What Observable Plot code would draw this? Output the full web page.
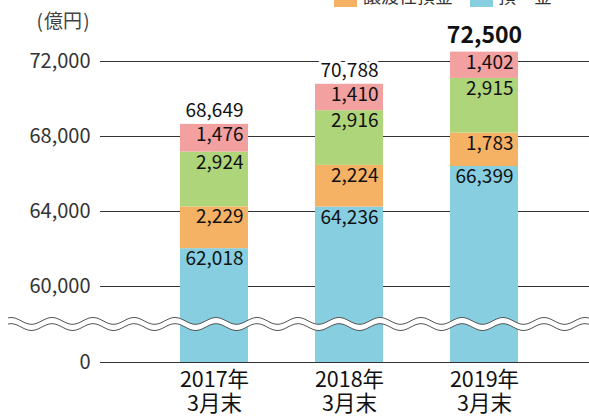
<!DOCTYPE html>
<html>
<head>
<meta charset="utf-8">
<script src="https://cdn.jsdelivr.net/npm/d3@7"></script>
<script src="https://cdn.jsdelivr.net/npm/@observablehq/plot@0.6"></script>
<style>
  html, body { margin: 0; padding: 0; background: #fff; overflow: hidden; }
  #wrap { position: relative; width: 589px; height: 416px; font-family: "Noto Sans CJK JP", sans-serif; }
  #wrap svg { position: absolute; left: 0; top: 0; }
  .lg { position: absolute; font-size: 18px; line-height: 18px; color: #333; white-space: pre; }
  .sw { position: absolute; width: 23px; height: 17px; }
</style>
</head>
<body>
<div id="wrap"></div>
<script>
// ---- data ----
const categories = ["2017年\n3月末", "2018年\n3月末", "2019年\n3月末"];
const seriesNames = ["預　金", "譲渡性預金", "その他A", "その他B"];
const deposits = [62018, 64236, 66399];      // 預金 (blue)
const cds = [2229, 2224, 1783];              // 譲渡性預金 (orange)
const greenSeries = [2924, 2916, 2915];      // green
const pinkSeries = [1476, 1410, 1402];       // pink
const totals = [68649, 70788, 72500];
const yTicks = [0, 60000, 64000, 68000, 72000];
const gridTicks = [60000, 64000, 68000, 72000];
const unitLabel = "(\u200A億円\u200A)";
const colors = ["#87cfe0", "#f6b264", "#afd57a", "#f2a0a0"];

const seriesValues = [deposits, cds, greenSeries, pinkSeries];
const rows = [];
seriesValues.forEach((vals, si) => {
  vals.forEach((v, ci) => rows.push({cat: categories[ci], series: seriesNames[si], value: v}));
});
const totalRows = totals.map((t, i) => ({cat: categories[i], total: t, last: i === totals.length - 1}));

const fmt = d3.format(",");

// broken axis: 0–60,000 is compressed into a short stretch below the break
const breakAt = 60000, lowSpan = 4053;
const brk = v => v <= breakAt ? v / breakAt * lowSpan : lowSpan + (v - breakAt);

const chart = Plot.plot({
  width: 589,
  height: 416,
  marginLeft: 100,
  marginRight: 0,
  marginTop: 0,
  marginBottom: 54,
  style: {fontFamily: "Noto Sans CJK JP, sans-serif", background: "transparent", overflow: "visible"},
  x: {domain: categories, paddingInner: 0.493, paddingOuter: 0.5444, align: 0.534, axis: null},
  y: {transform: brk, domain: [0, brk(74000)], range: [362, 362 - (lowSpan + 14000) * 0.01875], axis: null},
  color: {domain: seriesNames, range: colors},
  marks: [
    Plot.ruleY(gridTicks, {stroke: "#333", strokeWidth: 1}),
    Plot.ruleY([0], {stroke: "#333", strokeWidth: 1}),
    Plot.barY(rows, Plot.stackY({x: "cat", y: "value", z: "series", fill: "series", order: seriesNames})),
    Plot.text(rows, Plot.stackY2({
      x: "cat", y: "value", z: "series", order: seriesNames,
      text: d => fmt(d.value),
      textAnchor: "end", lineAnchor: "top", dx: 29, dy: 3,
      fontSize: 19, fill: "#111"
    })),
    // y tick labels
    Plot.text(yTicks, {y: d => d, text: d => fmt(d), frameAnchor: "left", textAnchor: "end", dx: -10, fontSize: 20, fill: "#333"}),
    // x category labels
    Plot.text(categories, {x: d => d, frameAnchor: "bottom", lineAnchor: "top", dy: 8, fontSize: 21.5, lineHeight: 1.1, fill: "#111"}),
    // unit label
    Plot.text([unitLabel], {frameAnchor: "top-left", dx: -64, dy: 14, fontSize: 19, fill: "#444"}),
    // totals
    Plot.text(totalRows.filter(d => !d.last), {x: "cat", y: "total", text: d => fmt(d.total), lineAnchor: "bottom", dy: -7, fontSize: 19, fill: "#111", stroke: "white", strokeWidth: 6, paintOrder: "stroke"}),
    Plot.text(totalRows.filter(d => d.last), {x: "cat", y: "total", text: d => fmt(d.total), lineAnchor: "bottom", dy: -9, fontSize: 23, fontWeight: "bold", fill: "#111"})
  ]
});

document.getElementById("wrap").appendChild(chart);

// ---- axis break (decorative wave) ----
const ys = chart.scale("y");
const yc = (ys.apply(0) + ys.apply(lowSpan)) / 2;
const svgSel = d3.select(chart);
const period = 41, amp = 3.4, x0 = 52, gap = 6.2;
const xsWave = d3.range(8, 590, 1);
const waveY = (x, off) => yc - gap / 2 + off - amp * Math.cos(2 * Math.PI * (x - x0) / period);
const lineGen = d3.line().x(d => d[0]).y(d => d[1]).curve(d3.curveBasis);
const waveTop = xsWave.map(x => [x, waveY(x, 0)]);
const waveBot = xsWave.map(x => [x, waveY(x, gap)]);
const g = svgSel.append("g");
g.append("path").attr("d", lineGen(waveTop.concat(waveBot.slice().reverse()))).attr("fill", "white").attr("stroke", "none");
g.append("path").attr("d", lineGen(waveTop)).attr("fill", "none").attr("stroke", "#555").attr("stroke-width", 1);
g.append("path").attr("d", lineGen(waveBot)).attr("fill", "none").attr("stroke", "#555").attr("stroke-width", 1);

// ---- legend (partially above the visible area, as in the reference) ----
const legendItems = [
  {name: seriesNames[1], color: colors[1], sx: 334, tx: 363},
  {name: seriesNames[0], color: colors[0], sx: 470, tx: 498}
];
const wrapEl = document.getElementById("wrap");
legendItems.forEach(it => {
  const sw = document.createElement("div");
  sw.className = "sw";
  sw.style.left = it.sx + "px";
  sw.style.top = "-10px";
  sw.style.background = it.color;
  wrapEl.appendChild(sw);
  const t = document.createElement("div");
  t.className = "lg";
  t.style.left = it.tx + "px";
  t.style.top = "-14px";
  t.textContent = it.name;
  wrapEl.appendChild(t);
});
</script>
</body>
</html>
